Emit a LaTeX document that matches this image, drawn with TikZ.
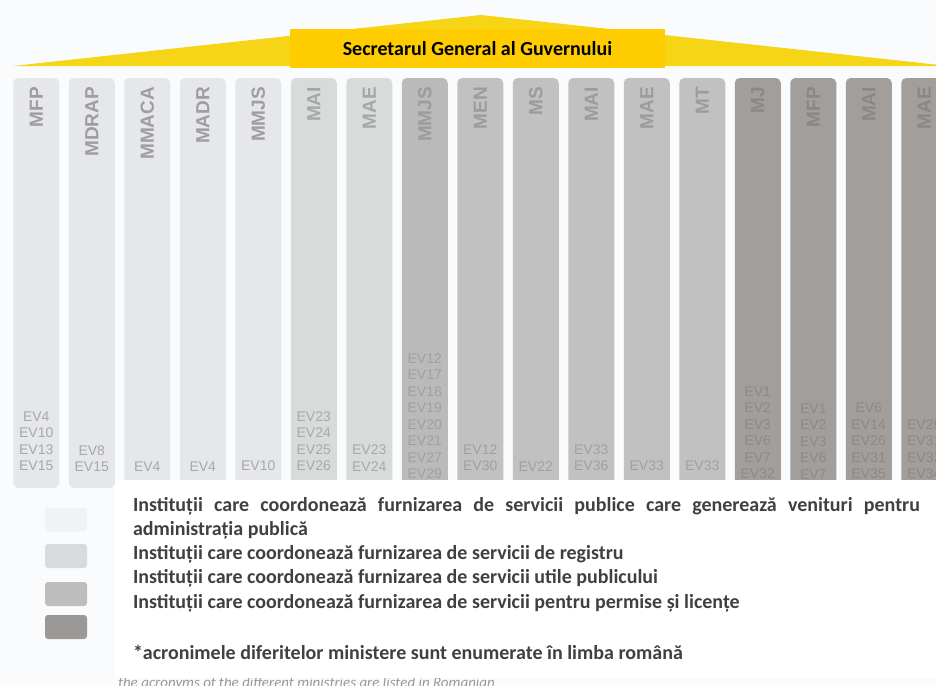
\documentclass[tikz,border=0pt]{standalone}
\usepackage{fontspec}
\setmainfont{Carlito}
\newfontfamily\arialfont{Liberation Sans}
\usepackage{tikz}
\usetikzlibrary{positioning}
\setlength{\parindent}{0pt}
\definecolor{pagebg}{RGB}{250,251,252}
\definecolor{sgyellow}{RGB}{255,204,0}
\definecolor{sgroof}{RGB}{246,213,22}
\definecolor{grpA}{RGB}{229,231,233}
\definecolor{grpB}{RGB}{217,219,219}
\definecolor{grpC}{RGB}{193,193,193}
\definecolor{grpCx}{RGB}{186,186,186}
\definecolor{grpD}{RGB}{161,158,156}
\definecolor{lblA}{RGB}{158,158,160}
\definecolor{lblB}{RGB}{166,167,167}
\definecolor{lblC}{RGB}{156,156,156}
\definecolor{lblD}{RGB}{138,135,133}
\definecolor{evA}{RGB}{168,168,170}
\definecolor{evB}{RGB}{168,169,169}
\definecolor{evC}{RGB}{160,160,160}
\definecolor{evD}{RGB}{140,137,135}
\definecolor{swA}{RGB}{240,242,244}
\definecolor{swB}{RGB}{216,218,219}
\definecolor{swC}{RGB}{190,190,190}
\definecolor{swD}{RGB}{155,153,152}
\definecolor{legtext}{RGB}{64,64,64}

\begin{document}
\begin{tikzpicture}[
  x=1pt,y=-1pt,
  every node/.style={inner sep=0pt,outer sep=0pt},
  col/.style={rounded corners=5pt,minimum width=46pt,minimum height=410pt},
  colA/.style={col,fill=grpA},
  colB/.style={col,fill=grpB},
  colC/.style={col,fill=grpC},
  colD/.style={col,fill=grpD},
  lbl/.style={rotate=90,anchor=east,font=\arialfont\bfseries\fontsize{19}{19}\selectfont},
  ev/.style={align=center,font=\arialfont\fontsize{14}{16.5}\selectfont},
  swatch/.style={rounded corners=3pt,minimum width=42pt,minimum height=24pt},
  legtxt/.style={text width=787pt,align=justify,text=legtext,
    font=\bfseries\fontsize{20}{24.3}\selectfont}
]
  \useasboundingbox (0,0) rectangle (936,685);
  \clip (0,0) rectangle (936,685);
  \fill[pagebg] (0,0) rectangle (936,685);

  \fill[sgroof] (13,66) -- (481,15) -- (949,66) -- cycle;
  \node[fill=sgyellow,minimum width=375pt,minimum height=39.5pt,
    font=\bfseries\fontsize{20}{24}\selectfont] (sg) at (477.5,48.5) {Secretarul General al Guvernului};

  \node[colA] (mfp1)  at (36.25,283) {};
  \node[colA] (mdrap) at (91.75,283) {};
  \node[colA] (mmaca) at (147.25,283) {};
  \node[colA] (madr)  at (202.75,283) {};
  \node[colA] (mmjs1) at (258.25,283) {};
  \node[colB] (mai1)  at (313.75,283) {};
  \node[colB] (mae1)  at (369.25,283) {};
  \node[col,fill=grpCx] (mmjs2) at (424.75,283) {};
  \node[colC] (men)   at (480.25,283) {};
  \node[colC] (ms)    at (535.75,283) {};
  \node[colC] (mai2)  at (591.25,283) {};
  \node[colC] (mae2)  at (646.75,283) {};
  \node[colC] (mt)    at (702.25,283) {};
  \node[colD] (mj)    at (757.75,283) {};
  \node[colD] (mfp2)  at (813.25,283) {};
  \node[colD] (mai3)  at (868.75,283) {};
  \node[colD] (mae3)  at (924.25,283) {};

  \node[lbl,text=lblA] (mfp1-t)  at ([yshift=-9pt]mfp1.north)  {MFP};
  \node[lbl,text=lblA] (mdrap-t) at ([yshift=-9pt]mdrap.north) {MDRAP};
  \node[lbl,text=lblA] (mmaca-t) at ([yshift=-9pt]mmaca.north) {MMACA};
  \node[lbl,text=lblA] (madr-t)  at ([yshift=-9pt]madr.north)  {MADR};
  \node[lbl,text=lblA] (mmjs1-t) at ([yshift=-9pt]mmjs1.north) {MMJS};
  \node[lbl,text=lblB] (mai1-t)  at ([yshift=-9pt]mai1.north)  {MAI};
  \node[lbl,text=lblB] (mae1-t)  at ([yshift=-9pt]mae1.north)  {MAE};
  \node[lbl,text=lblC] (mmjs2-t) at ([yshift=-9pt]mmjs2.north) {MMJS};
  \node[lbl,text=lblC] (men-t)   at ([yshift=-9pt]men.north)   {MEN};
  \node[lbl,text=lblC] (ms-t)    at ([yshift=-9pt]ms.north)    {MS};
  \node[lbl,text=lblC] (mai2-t)  at ([yshift=-9pt]mai2.north)  {MAI};
  \node[lbl,text=lblC] (mae2-t)  at ([yshift=-9pt]mae2.north)  {MAE};
  \node[lbl,text=lblC] (mt-t)    at ([yshift=-9pt]mt.north)    {MT};
  \node[lbl,text=lblD] (mj-t)    at ([yshift=-9pt]mj.north)    {MJ};
  \node[lbl,text=lblD] (mfp2-t)  at ([yshift=-9pt]mfp2.north)  {MFP};
  \node[lbl,text=lblD] (mai3-t)  at ([yshift=-9pt]mai3.north)  {MAI};
  \node[lbl,text=lblD] (mae3-t)  at ([yshift=-9pt]mae3.north)  {MAE};

  \node[ev,text=evA,above=17pt of mfp1.south]  (mfp1-e)  {EV4\\EV10\\EV13\\EV15};
  \node[ev,text=evA,above=16pt of mdrap.south] (mdrap-e) {EV8\\EV15};
  \node[ev,text=evA,above=17pt of mmaca.south] (mmaca-e) {EV4};
  \node[ev,text=evA,above=17pt of madr.south]  (madr-e)  {EV4};
  \node[ev,text=evA,above=17pt of mmjs1.south] (mmjs1-e) {EV10};
  \node[ev,text=evB,above=17pt of mai1.south]  (mai1-e)  {EV23\\EV24\\EV25\\EV26};
  \node[ev,text=evB,above=17pt of mae1.south]  (mae1-e)  {EV23\\EV24};
  \node[ev,text=evC,above=9pt of mmjs2.south]  (mmjs2-e) {EV12\\EV17\\EV18\\EV19\\EV20\\EV21\\EV27\\EV29};
  \node[ev,text=evC,above=17pt of men.south]   (men-e)   {EV12\\EV30};
  \node[ev,text=evC,above=17pt of ms.south]    (ms-e)    {EV22};
  \node[ev,text=evC,above=17pt of mai2.south]  (mai2-e)  {EV33\\EV36};
  \node[ev,text=evC,above=17pt of mae2.south]  (mae2-e)  {EV33};
  \node[ev,text=evC,above=17pt of mt.south]    (mt-e)    {EV33};
  \node[ev,text=evD,above=9pt of mj.south]     (mj-e)    {EV1\\EV2\\EV3\\EV6\\EV7\\EV32};
  \node[ev,text=evD,above=9pt of mfp2.south]   (mfp2-e)  {EV1\\EV2\\EV3\\EV6\\EV7};
  \node[ev,text=evD,above=9pt of mai3.south]   (mai3-e)  {EV6\\EV14\\EV26\\EV31\\EV35};
  \node[ev,text=evD,above=9pt of mae3.south]   (mae3-e)  {EV29\\EV31\\EV32\\EV34};

  \node[anchor=base west,text=gray!80,font=\itshape\fontsize{15}{18}\selectfont]
    (note-en) at (118,687) {the acronyms of the different ministries are listed in Romanian};

  \node[fill=white,minimum width=821pt,minimum height=198pt] (legbg) at (525.5,579) {};

  \node[swatch,fill=swA] (swa) at (66,519.5) {};
  \node[swatch,fill=swB] (swb) at (66,556) {};
  \node[swatch,fill=swC] (swc) at (66,594) {};
  \node[swatch,fill=swD] (swd) at (66,627) {};

  \node[legtxt,anchor=north west] (legt) at (133,497) {Instituții care coordonează furnizarea de servicii publice care generează venituri pentru\linebreak administrația publică\par
    Instituții care coordonează furnizarea de servicii de registru\par
    Instituții care coordonează furnizarea de servicii utile publicului\par
    Instituții care coordonează furnizarea de servicii pentru permise și licențe\par
    \vspace{26.7pt}*acronimele diferitelor ministere sunt enumerate în limba română};
\end{tikzpicture}
\end{document}
